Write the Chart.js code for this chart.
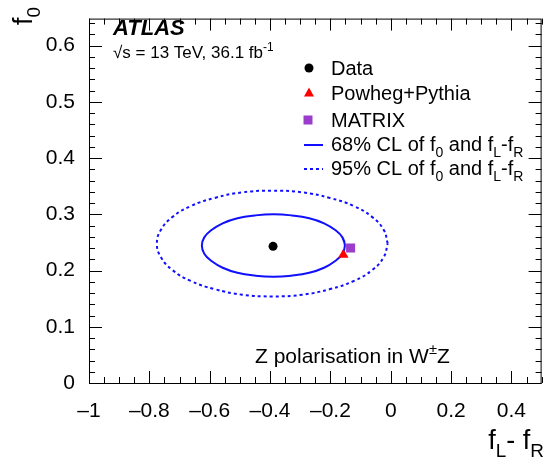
<!DOCTYPE html>
<html>
<head>
<meta charset="utf-8">
<script src="https://cdn.jsdelivr.net/npm/chart.js@4"></script>
<style>
  body { margin: 0; background: #fff; }
  canvas { display: block; }
</style>
</head>
<body>
<canvas id="chart" width="548" height="461"></canvas>
<script>
// measured values
const dataPoint = [-0.390, 0.243];
const powhegPoint = [-0.157, 0.228];
const matrixPoint = [-0.133, 0.240];

// 68% CL contour (first and last points overlap to close it)
const cl68X = [-0.160, -0.152, -0.160, -0.184, -0.221, -0.270, -0.328, -0.389, -0.450, -0.508, -0.557, -0.594, -0.618, -0.626,
               -0.618, -0.594, -0.557, -0.508, -0.450, -0.389, -0.328, -0.270, -0.221, -0.184, -0.160, -0.152, -0.160];
const cl68Y = [0.230, 0.2445, 0.259, 0.272, 0.284, 0.293, 0.298, 0.300, 0.298, 0.293, 0.284, 0.272, 0.259, 0.2445,
               0.230, 0.217, 0.205, 0.196, 0.191, 0.189, 0.191, 0.196, 0.205, 0.217, 0.230, 0.2445, 0.259];

// 95% CL contour
const cl95X = [-0.010, -0.023, -0.061, -0.122, -0.201, -0.293, -0.392, -0.492, -0.584, -0.663, -0.724, -0.762, -0.775,
               -0.762, -0.724, -0.663, -0.584, -0.492, -0.392, -0.293, -0.201, -0.122, -0.061, -0.023, -0.010];
const cl95Y = [0.248, 0.272, 0.295, 0.3145, 0.329, 0.339, 0.342, 0.339, 0.329, 0.3145, 0.295, 0.272, 0.248,
               0.224, 0.201, 0.1815, 0.167, 0.157, 0.154, 0.157, 0.167, 0.1815, 0.201, 0.224, 0.248];

const xTickValues = [-1, -0.8, -0.6, -0.4, -0.2, 0, 0.2, 0.4];
const yTickValues = [0, 0.1, 0.2, 0.3, 0.4, 0.5, 0.6];

const FONT = '"Liberation Sans", Arial, Helvetica, sans-serif';
const BLUE = '#1010ff';
const RED = '#ff0000';
const PURPLE = '#9a3ccc';

function toPoints(xs, ys) {
    return xs.map((x, i) => ({x: x, y: ys[i]}));
}

function fmt(v) {
    const s = Math.abs(v) < 1e-9 ? '0' : String(Math.round(v * 10) / 10);
    return s.replace('-', '\u2013');
}

// draws text pieces with sub/superscripts, returns end x
function richText(ctx, x, y, parts, size, style) {
    let cx = x;
    style = style || '';
    for (const p of parts) {
        const s = (p.sub || p.sup) ? size * 0.7 : size;
        ctx.font = style + ' ' + s + 'px ' + FONT;
        const dy = p.sub ? size * 0.3 : (p.sup ? -size * 0.42 : 0);
        ctx.fillText(p.t, cx, y + dy);
        cx += ctx.measureText(p.t).width;
    }
    return cx;
}

function richWidth(ctx, parts, size, style) {
    let w = 0;
    style = style || '';
    for (const p of parts) {
        const s = (p.sub || p.sup) ? size * 0.7 : size;
        ctx.font = style + ' ' + s + 'px ' + FONT;
        w += ctx.measureText(p.t).width;
    }
    return w;
}

function marker(ctx, type, x, y, color) {
    ctx.fillStyle = color;
    ctx.beginPath();
    if (type === 'circle') {
        ctx.arc(x, y, 4.5, 0, Math.PI * 2);
    } else if (type === 'triangle') {
        ctx.moveTo(x, y - 5.5);
        ctx.lineTo(x + 5, y + 3.5);
        ctx.lineTo(x - 5, y + 3.5);
        ctx.closePath();
    } else {
        ctx.rect(x - 4.5, y - 4.5, 9, 9);
    }
    ctx.fill();
}

// frame, inward ticks, legend and labels
const decorations = {
    id: 'decorations',
    afterDraw(chart) {
        const ctx = chart.ctx;
        const a = chart.chartArea;
        const xs = chart.scales.x, ys = chart.scales.y;
        ctx.save();
        ctx.strokeStyle = '#000';
        ctx.lineWidth = 1;
        ctx.strokeRect(a.left + 0.5, a.top + 0.5, a.right - a.left - 1, a.bottom - a.top);

        ctx.beginPath();
        for (let i = 0; i <= 30; i++) {
            const v = -1 + i * 0.05;
            const px = Math.round(xs.getPixelForValue(v)) + 0.5;
            const len = (i % 4 === 0) ? 12 : 6;
            ctx.moveTo(px, a.bottom); ctx.lineTo(px, a.bottom - len);
            ctx.moveTo(px, a.top); ctx.lineTo(px, a.top + len);
        }
        for (let i = 0; i <= 32; i++) {
            const v = i * 0.02;
            const py = Math.round(ys.getPixelForValue(v)) + 0.5;
            const len = (i % 5 === 0) ? 13 : 6;
            ctx.moveTo(a.left, py); ctx.lineTo(a.left + len, py);
            ctx.moveTo(a.right, py); ctx.lineTo(a.right - len, py);
        }
        ctx.stroke();

        ctx.fillStyle = '#000';
        ctx.textBaseline = 'alphabetic';
        ctx.textAlign = 'left';

        // ATLAS label
        richText(ctx, 113, 35, [{t: 'ATLAS'}], 22, 'italic bold');
        richText(ctx, 113, 58, [{t: '\u221As = 13 TeV, 36.1 fb'}, {t: '-1', sup: true}], 17);

        // legend
        marker(ctx, 'circle', 309, 68, '#000');
        marker(ctx, 'triangle', 309, 93, RED);
        marker(ctx, 'rect', 308, 120, PURPLE);
        ctx.strokeStyle = BLUE;
        ctx.lineWidth = 2;
        ctx.beginPath(); ctx.moveTo(304, 145); ctx.lineTo(323, 145); ctx.stroke();
        ctx.setLineDash([3, 3]);
        ctx.beginPath(); ctx.moveTo(304, 169); ctx.lineTo(323, 169); ctx.stroke();
        ctx.setLineDash([]);
        ctx.fillStyle = '#000';
        richText(ctx, 331, 75, [{t: 'Data'}], 20);
        richText(ctx, 331, 100, [{t: 'Powheg+Pythia'}], 20);
        richText(ctx, 331, 127, [{t: 'MATRIX'}], 20);
        const clParts = [{t: ' CL of f'}, {t: '0', sub: true}, {t: ' and f'}, {t: 'L', sub: true}, {t: '-f'}, {t: 'R', sub: true}];
        richText(ctx, 331, 151, [{t: '68%'}].concat(clParts), 20);
        richText(ctx, 331, 175, [{t: '95%'}].concat(clParts), 20);

        // plot label
        richText(ctx, 255, 363, [{t: 'Z polarisation in W'}, {t: '\u00B1', sup: true}, {t: 'Z'}], 21);

        // axis titles
        const xt = [{t: 'f'}, {t: 'L', sub: true}, {t: '- f'}, {t: 'R', sub: true}];
        richText(ctx, 544 - richWidth(ctx, xt, 27), 449, xt, 27);
        ctx.translate(32, 25);
        ctx.rotate(-Math.PI / 2);
        richText(ctx, 0, 0, [{t: 'f'}, {t: '0', sub: true}], 27);
        ctx.restore();
    }
};

new Chart(document.getElementById('chart'), {
    type: 'scatter',
    data: {
        datasets: [
            {
                label: 'Data',
                data: [{x: dataPoint[0], y: dataPoint[1]}],
                pointStyle: 'circle',
                pointRadius: 4.5,
                backgroundColor: '#000',
                borderWidth: 0
            },
            {
                label: 'MATRIX',
                data: [{x: matrixPoint[0], y: matrixPoint[1]}],
                pointStyle: 'rect',
                pointRadius: 6.4,
                backgroundColor: PURPLE,
                borderWidth: 0
            },
            {
                label: 'Powheg+Pythia',
                data: [{x: powhegPoint[0], y: powhegPoint[1]}],
                pointStyle: 'triangle',
                pointRadius: 6,
                backgroundColor: RED,
                borderWidth: 0
            },
            {
                label: '68% CL',
                data: toPoints(cl68X, cl68Y),
                showLine: true,
                pointRadius: 0,
                borderColor: BLUE,
                borderWidth: 2,
                tension: 0.45,
                fill: false
            },
            {
                label: '95% CL',
                data: toPoints(cl95X, cl95Y),
                showLine: true,
                pointRadius: 0,
                borderColor: BLUE,
                borderWidth: 2,
                borderDash: [3, 3],
                tension: 0.45,
                fill: false
            }
        ]
    },
    options: {
        responsive: false,
        animation: false,
        devicePixelRatio: 1,
        layout: {
            padding: {left: 0, right: 6, top: 5, bottom: 0}
        },
        plugins: {
            legend: {display: false},
            tooltip: {enabled: false}
        },
        scales: {
            x: {
                type: 'linear',
                min: -1,
                max: 0.5,
                grid: {display: false},
                border: {display: false},
                afterBuildTicks: (s) => { s.ticks = xTickValues.map(v => ({value: v})); },
                afterFit: (s) => { s.height = 78; },
                ticks: {
                    color: '#000',
                    padding: 8,
                    maxRotation: 0,
                    autoSkip: false,
                    font: {family: FONT, size: 21},
                    callback: (v) => fmt(v)
                }
            },
            y: {
                type: 'linear',
                min: 0,
                max: 0.648,
                grid: {display: false},
                border: {display: false},
                afterBuildTicks: (s) => { s.ticks = yTickValues.map(v => ({value: v})); },
                afterFit: (s) => { s.width = 89; },
                ticks: {
                    color: '#000',
                    padding: 6,
                    autoSkip: false,
                    font: {family: FONT, size: 21},
                    callback: (v) => fmt(v)
                }
            }
        }
    },
    plugins: [decorations]
});
</script>
</body>
</html>
